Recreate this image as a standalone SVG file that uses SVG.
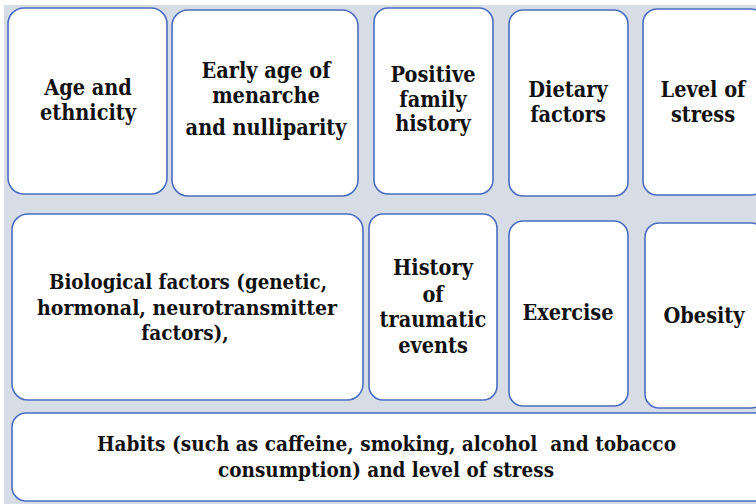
<svg xmlns="http://www.w3.org/2000/svg" width="756" height="504" viewBox="0 0 756 504">
<style>
.bg{fill:#d7dde6}
.box{fill:#ffffff;stroke:#4b6cc0;stroke-width:1.6}
text{font-family:'DejaVu Serif Condensed','DejaVu Serif',serif;font-stretch:condensed;font-weight:700;font-size:21.5px;fill:#111111;text-anchor:middle}
text.l{font-size:20.6px}
</style>
<rect x="0" y="0" width="756" height="504" fill="#ffffff"/>
<rect class="bg" x="4" y="5" width="752" height="499"/>
<g id="connectors"/>
<g id="n1"><rect class="box" x="8" y="8" width="159" height="186" rx="16"/><text x="88" y="95">Age and</text><text x="88" y="120">ethnicity</text></g>
<g id="n2"><rect class="box" x="172" y="10" width="186" height="186" rx="16"/><text x="266" y="78">Early age of</text><text x="266" y="103">menarche</text><text x="266" y="135">and nulliparity</text></g>
<g id="n3"><rect class="box" x="374" y="8" width="119" height="186" rx="14"/><text x="433" y="82">Positive</text><text x="433" y="107">family</text><text x="433" y="131">history</text></g>
<g id="n4"><rect class="box" x="509" y="10" width="119" height="186" rx="14"/><text x="568" y="97">Dietary</text><text x="568" y="122">factors</text></g>
<g id="n5"><rect class="box" x="643" y="9" width="122" height="186" rx="14"/><text x="703" y="97">Level of</text><text x="703" y="122">stress</text></g>
<g id="n6"><rect class="box" x="12" y="214" width="351" height="186" rx="16"/><text class="l" x="188" y="289" textLength="278" lengthAdjust="spacingAndGlyphs">Biological factors (genetic,</text><text class="l" x="187" y="315" textLength="300" lengthAdjust="spacingAndGlyphs">hormonal, neurotransmitter</text><text class="l" x="185" y="340">factors),</text></g>
<g id="n7"><rect class="box" x="369" y="214" width="128" height="186" rx="14"/><text x="433" y="275">History</text><text x="433" y="302">of</text><text x="433" y="327">traumatic</text><text x="433" y="353">events</text></g>
<g id="n8"><rect class="box" x="509" y="221" width="119" height="185" rx="14"/><text x="568" y="320">Exercise</text></g>
<g id="n9"><rect class="box" x="645" y="223" width="120" height="185" rx="14"/><text x="704" y="323">Obesity</text></g>
<g id="n10"><rect class="box" x="12" y="413" width="760" height="88" rx="14"/><text class="l" x="386.5" y="451" xml:space="preserve" textLength="579" lengthAdjust="spacingAndGlyphs">Habits (such as caffeine, smoking, alcohol  and tobacco</text><text class="l" x="386" y="477" textLength="336" lengthAdjust="spacingAndGlyphs">consumption) and level of stress</text></g>
</svg>
